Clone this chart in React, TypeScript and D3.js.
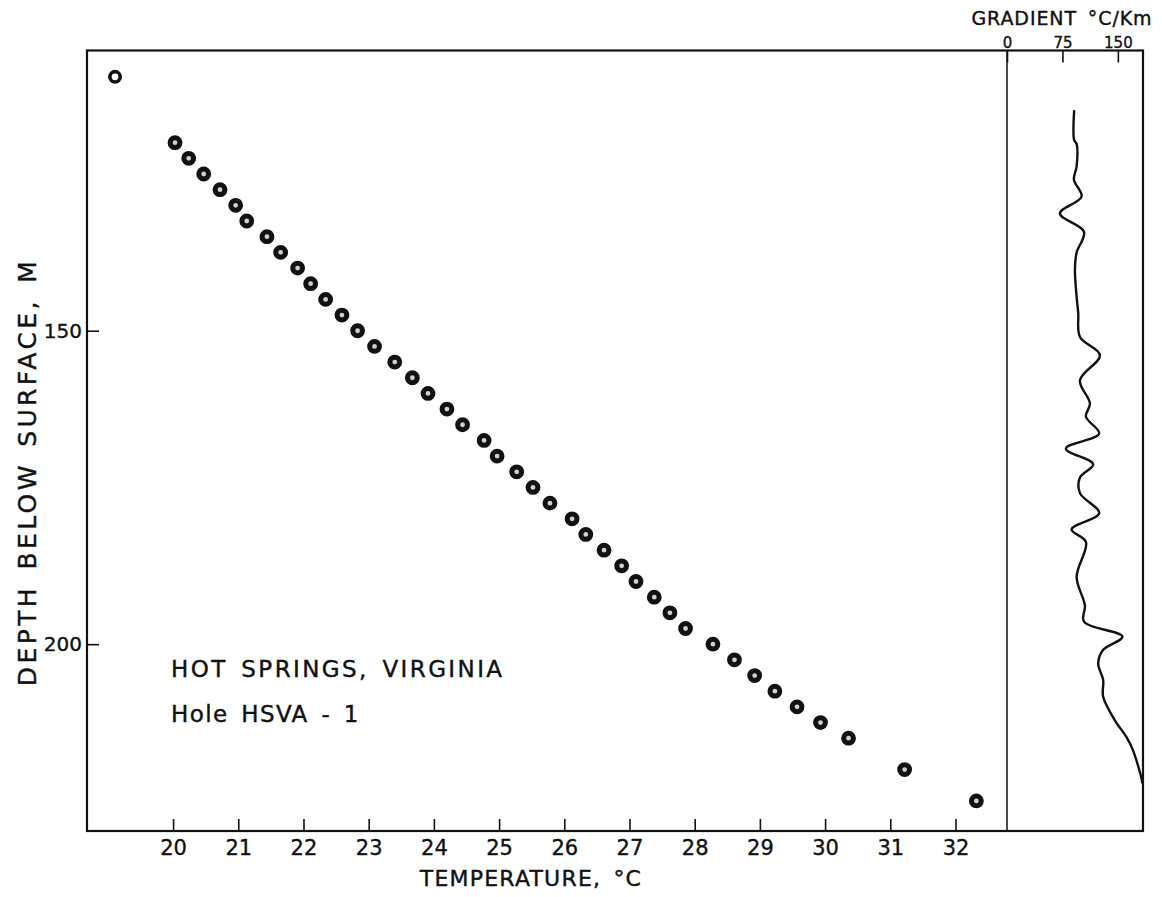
import React, { useEffect, useRef } from "react";
import * as d3 from "d3";

// axis ticks
const tempTicks = [20, 21, 22, 23, 24, 25, 26, 27, 28, 29, 30, 31, 32];
const depthTicks = [150, 200];
const gradTicks = [0, 75, 150];

// measured temperatures (°C) and their depths (m)
const pointTemp = [
  19.11, 20.03, 20.24, 20.47, 20.72, 20.96, 21.13, 21.44, 21.65, 21.91, 22.11,
  22.34, 22.59, 22.83, 23.09, 23.4, 23.67, 23.91, 24.2, 24.44, 24.77, 24.97,
  25.27, 25.52, 25.78, 26.12, 26.33, 26.61, 26.88, 27.1, 27.38, 27.62, 27.86,
  28.28, 28.61, 28.92, 29.23, 29.57, 29.93, 30.36, 31.22, 32.32,
];
const pointDepth = [
  109.5, 120, 122.5, 125, 127.5, 130, 132.5, 135, 137.5, 140, 142.5, 145, 147.5,
  150, 152.5, 155, 157.5, 160, 162.5, 165, 167.5, 170, 172.5, 175, 177.5, 180,
  182.5, 185, 187.5, 190, 192.5, 195, 197.5, 200, 202.5, 205, 207.5, 210, 212.5,
  215, 220, 225,
];

// gradient log (°C/Km) against depth (m)
const gradDepth = [
  114.8, 119.6, 120.2, 123.8, 125.9, 128.6, 131.3, 134.2, 137.6, 140.3, 144.6,
  147.2, 151.0, 153.9, 157.9, 161.6, 163.7, 166.4, 168.8, 171.3, 173.4, 175.9,
  179.1, 181.7, 183.7, 189.3, 193.8, 196.4, 198.8, 200.9, 203.1, 205.7, 208.4,
  212.1, 214.8, 216.9, 221.7, 222.2,
];
const gradValue = [
  90.9, 90.9, 94.2, 94.2, 90.5, 100.9, 71.6, 104.1, 94.0, 91.9, 94.2, 96.4,
  98.7, 125.7, 98.7, 112.2, 106.8, 124.7, 79.7, 116.6, 98.7, 98.7, 124.7, 87.4,
  106.8, 94.2, 105.4, 104.1, 156.2, 130.1, 123.4, 130.1, 130.1, 145.7, 161.5,
  170.4, 182.5, 183,
];

const FONT = "'DejaVu Sans', sans-serif";
const INK = "#111";

const App = () => {
  const chartRef = useRef<SVGSVGElement>(null);

  useEffect(() => {
    drawChart();
  }, []);

  const drawChart = () => {
    const svg = d3.select(chartRef.current);
    svg.selectAll("*").remove();

    const left = 87;
    const right = 1007;
    const panelRight = 1143;
    const top = 50.5;
    const bottom = 831;

    const x = d3.scaleLinear().domain([18.68, 32.79]).range([left, right]);
    const y = d3.scaleLinear().domain([105.3, 229.8]).range([top, bottom]);
    const gx = d3.scaleLinear().domain([0, 184]).range([right, panelRight]);

    // frame
    svg.append("rect")
      .attr("x", left).attr("y", top)
      .attr("width", panelRight - left).attr("height", bottom - top)
      .attr("fill", "none").attr("stroke", INK).attr("stroke-width", 2.2);
    svg.append("line")
      .attr("x1", right).attr("x2", right).attr("y1", top).attr("y2", bottom)
      .attr("stroke", INK).attr("stroke-width", 1.5);

    const styleAxis = (g, size) => {
      g.select(".domain").remove();
      g.selectAll(".tick line").attr("stroke", INK).attr("stroke-width", 1.6);
      g.selectAll(".tick text").attr("fill", INK).attr("stroke", INK).attr("stroke-width", 0.35);
      g.attr("font-family", FONT).attr("font-size", size);
    };

    // bottom temperature axis
    svg.append("g")
      .attr("transform", `translate(0,${bottom})`)
      .call(d3.axisBottom(x).tickValues(tempTicks).tickSizeInner(-12).tickSizeOuter(0).tickPadding(9))
      .call(g => styleAxis(g, 21));

    // left depth axis
    svg.append("g")
      .attr("transform", `translate(${left},0)`)
      .call(d3.axisLeft(y).tickValues(depthTicks).tickSizeInner(-12).tickSizeOuter(0).tickPadding(5))
      .call(g => styleAxis(g, 20));

    // top gradient axis
    svg.append("g")
      .attr("transform", `translate(0,${top})`)
      .call(d3.axisTop(gx).tickValues(gradTicks).tickSizeInner(-12).tickSizeOuter(0).tickPadding(3))
      .call(g => styleAxis(g, 15));

    // gradient curve
    const line = d3.line()
      .x((d, i) => gx(gradValue[i]))
      .y((d, i) => y(gradDepth[i]))
      .curve(d3.curveCatmullRom.alpha(0.5));
    svg.append("path")
      .datum(gradDepth)
      .attr("d", line)
      .attr("fill", "none")
      .attr("stroke", INK)
      .attr("stroke-width", 2.4)
      .attr("stroke-linejoin", "round");

    // temperature points
    svg.selectAll(".pt")
      .data(pointTemp)
      .enter()
      .append("circle")
      .attr("class", "pt")
      .attr("cx", d => x(d))
      .attr("cy", (d, i) => y(pointDepth[i]))
      .attr("r", (d, i) => (i === 0 ? 5.2 : 4.9))
      .attr("fill", (d, i) => (i === 0 ? "#fff" : "#d0d0d0"))
      .attr("stroke", INK)
      .attr("stroke-width", (d, i) => (i === 0 ? 3.6 : 5));

    const addText = (tx, ty, str, size, spacing, anchor = "start", transform = null) => {
      const t = svg.append("text")
        .attr("x", tx).attr("y", ty)
        .attr("text-anchor", anchor)
        .attr("font-family", FONT).attr("font-size", size)
        .attr("letter-spacing", spacing).attr("word-spacing", 4)
        .attr("fill", INK).attr("stroke", INK).attr("stroke-width", 0.4)
        .text(str);
      if (transform) t.attr("transform", transform);
      return t;
    };

    // titles
    addText(531, 886, "TEMPERATURE, °C", 22, 1.2, "middle");
    addText(0, 0, "DEPTH BELOW SURFACE, M", 25, 3.4, "middle", "translate(36,472) rotate(-90)");
    addText(1062, 25, "GRADIENT °C/Km", 19, 0.9, "middle");

    // annotation
    addText(171, 677, "HOT SPRINGS, VIRGINIA", 23, 2.4);
    addText(171, 722, "Hole HSVA - 1", 23, 1.4);
  };

  return (
    <svg
      ref={chartRef}
      width={1162}
      height={897}
      style={{ position: "absolute", left: 0, top: 0, background: "#fff" }}
    />
  );
};

export default App;
